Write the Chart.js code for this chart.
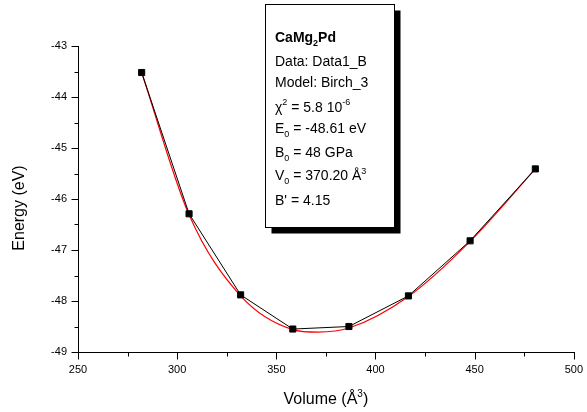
<!DOCTYPE html>
<html>
<head>
<meta charset="utf-8">
<script src="https://cdn.jsdelivr.net/npm/chart.js@4/dist/chart.umd.min.js"></script>
<style>
  html, body { margin: 0; padding: 0; background: #fff; }
  #wrap { width: 587px; height: 412px; position: relative; }
</style>
</head>
<body>
<div id="wrap"><canvas id="c" width="587" height="412"></canvas></div>
<script>
// ---- data ----
const volumes   = [282.1, 306.0, 332.0, 358.3, 386.6, 416.6, 447.7, 480.6];
const energies  = [-43.52, -46.29, -47.88, -48.55, -48.50, -47.90, -46.82, -45.41];
const fitVolumes  = [282.1, 306.0, 332.0, 358.3, 371.0, 386.6, 416.6, 447.7, 480.6];
const fitEnergies = [-43.52, -46.31, -47.90, -48.56, -48.61, -48.53, -47.91, -46.83, -45.41];
const xTicks = [250, 300, 350, 400, 450, 500];
const yTicks = [-49, -48, -47, -46, -45, -44, -43];
const xMinorStep = 25;
const yMinorStep = 0.5;
const xTitle = ['Volume (Å', '3', ')'];
const yTitle = 'Energy (eV)';
const boxLines = [
  [{t:'CaMg', b:true}, {t:'2', b:true, sub:true}, {t:'Pd', b:true}],
  [{t:'Data: Data1_B'}],
  [{t:'Model: Birch_3'}],
  [{t:'χ'}, {t:'2', sup:true}, {t:' = 5.8 10'}, {t:'-6', sup:true}],
  [{t:'E'}, {t:'0', sub:true}, {t:' = -48.61 eV'}],
  [{t:'B'}, {t:'0', sub:true}, {t:' = 48 GPa'}],
  [{t:'V'}, {t:'0', sub:true}, {t:' = 370.20 Å'}, {t:'3', sup:true}],
  [{t:"B' = 4.15"}]
];

const FONT = '"Liberation Sans", Arial, sans-serif';

function richText(ctx, parts, x, y, size) {
  let cx = x;
  for (const p of parts) {
    const small = p.sub || p.sup;
    const fs = small ? Math.round(size * 0.62) : size;
    ctx.font = (p.b ? 'bold ' : '') + fs + 'px ' + FONT;
    let dy = 0;
    if (p.sub) dy = size * 0.3;
    if (p.sup) dy = -size * 0.45;
    ctx.fillText(p.t, cx, y + dy);
    cx += ctx.measureText(p.t).width;
  }
  return cx - x;
}
function richWidth(ctx, parts, size) {
  let w = 0;
  for (const p of parts) {
    const small = p.sub || p.sup;
    const fs = small ? Math.round(size * 0.62) : size;
    ctx.font = (p.b ? 'bold ' : '') + fs + 'px ' + FONT;
    w += ctx.measureText(p.t).width;
  }
  return w;
}

const decor = {
  id: 'decor',
  afterDraw(chart) {
    const ctx = chart.ctx;
    const xs = chart.scales.x, ys = chart.scales.y;
    const ca = chart.chartArea;
    ctx.save();
    ctx.strokeStyle = '#000';
    ctx.lineWidth = 1;
    const lx = Math.round(ca.left) + 0.5;
    const by = Math.round(ca.bottom) + 0.5;
    ctx.beginPath();
    ctx.moveTo(lx, Math.round(ca.top));
    ctx.lineTo(lx, by);
    ctx.lineTo(Math.round(ca.right) + 1, by);
    ctx.stroke();
    // x ticks
    ctx.beginPath();
    for (let v = xs.min; v <= xs.max + 1e-9; v += xMinorStep) {
      const px = Math.round(xs.getPixelForValue(v)) + 0.5;
      const major = xTicks.includes(Math.round(v));
      ctx.moveTo(px, by);
      ctx.lineTo(px, by + (major ? 7 : 4));
    }
    // y ticks
    for (let v = ys.min; v <= ys.max + 1e-9; v += yMinorStep) {
      const py = Math.round(ys.getPixelForValue(v)) + 0.5;
      const major = Math.abs(v - Math.round(v)) < 1e-6;
      ctx.moveTo(lx, py);
      ctx.lineTo(lx - (major ? 7 : 4), py);
    }
    ctx.stroke();

    // axis titles
    ctx.fillStyle = '#000';
    ctx.textBaseline = 'alphabetic';
    const tw = richWidth(ctx, [{t:xTitle[0]},{t:xTitle[1],sup:true},{t:xTitle[2]}], 16);
    richText(ctx, [{t:xTitle[0]},{t:xTitle[1],sup:true},{t:xTitle[2]}], (ca.left + ca.right) / 2 - tw / 2, 404, 16);
    ctx.save();
    ctx.translate(24, 208);
    ctx.rotate(-Math.PI / 2);
    ctx.font = '16px ' + FONT;
    ctx.textAlign = 'center';
    ctx.fillText(yTitle, 0, 0);
    ctx.restore();

    // info box
    const bx = 265.5, bt = 4.5, bw = 129, bh = 223;
    ctx.fillStyle = '#000';
    ctx.fillRect(bx + 6, bt + 6, bw, bh);
    ctx.fillStyle = '#fff';
    ctx.fillRect(bx, bt, bw, bh);
    ctx.strokeRect(bx, bt, bw, bh);
    ctx.fillStyle = '#000';
    const baselines = [42, 66, 87, 111.5, 133, 156.5, 180, 205];
    boxLines.forEach((ln, i) => richText(ctx, ln, 275, baselines[i], 14));
    ctx.restore();
  }
};

new Chart(document.getElementById('c'), {
  type: 'scatter',
  data: {
    datasets: [
      {
        label: 'Data1_B',
        data: volumes.map((v, i) => ({x: v, y: energies[i]})),
        showLine: true,
        borderColor: '#000',
        borderWidth: 1,
        pointStyle: 'rect',
        pointRadius: 4.3,
        pointBackgroundColor: '#000',
        pointBorderColor: '#000',
        pointBorderWidth: 1,
        order: 1
      },
      {
        label: 'Birch_3',
        data: fitVolumes.map((v, i) => ({x: v, y: fitEnergies[i]})),
        showLine: true,
        borderColor: '#ff0000',
        borderWidth: 1.2,
        pointRadius: 0,
        cubicInterpolationMode: 'monotone',
        order: 2
      }
    ]
  },
  options: {
    responsive: false,
    animation: false,
    devicePixelRatio: 1,
    layout: { padding: { left: 0, right: 11, top: 46, bottom: 0 } },
    plugins: { legend: { display: false }, tooltip: { enabled: false } },
    scales: {
      x: {
        type: 'linear', min: 250, max: 500,
        afterBuildTicks: s => { s.ticks = xTicks.map(v => ({value: v})); },
        afterFit: s => { s.height = 60; },
        grid: { display: true, drawOnChartArea: false, drawTicks: true, tickLength: 7, color: 'rgba(0,0,0,0)' },
        border: { display: false },
        ticks: { color: '#000', font: { family: FONT, size: 11 }, padding: 4, autoSkip: false, maxRotation: 0 }
      },
      y: {
        type: 'linear', min: -49, max: -43,
        afterBuildTicks: s => { s.ticks = yTicks.map(v => ({value: v})); },
        afterFit: s => { s.width = 78; },
        grid: { display: true, drawOnChartArea: false, drawTicks: true, tickLength: 7, color: 'rgba(0,0,0,0)' },
        border: { display: false },
        ticks: { color: '#000', font: { family: FONT, size: 11 }, padding: 4, autoSkip: false }
      }
    }
  },
  plugins: [decor]
});
</script>
</body>
</html>
